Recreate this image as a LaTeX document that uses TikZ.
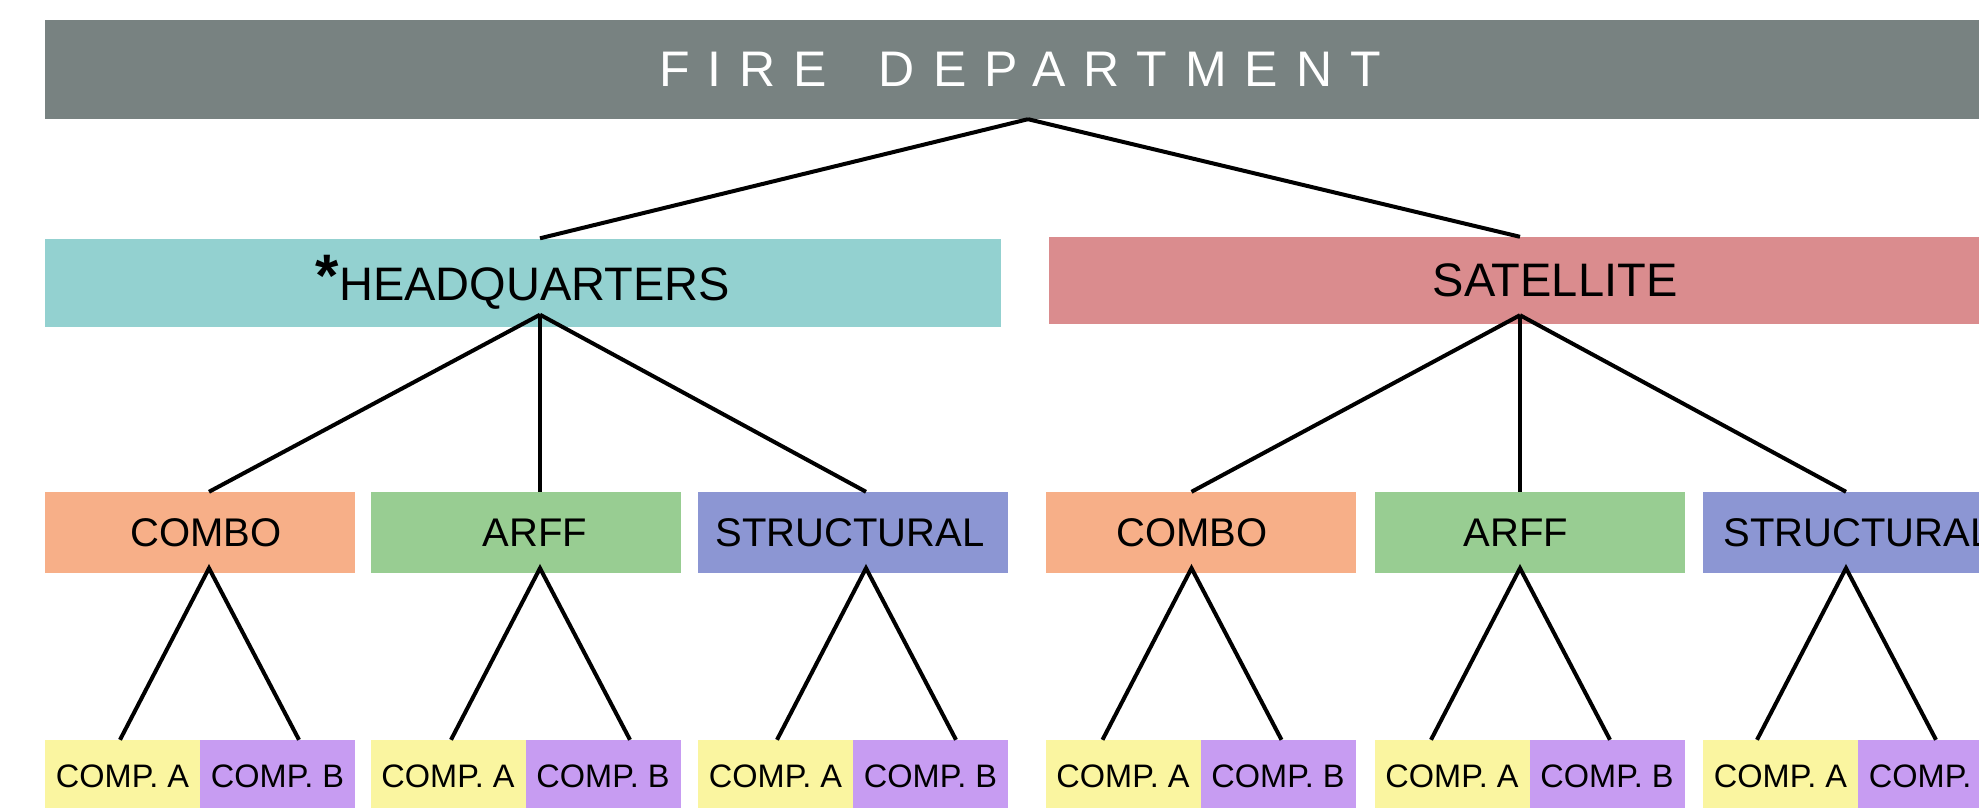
\documentclass[tikz,border=0pt]{standalone}
\usepackage{fontspec}
\setmainfont{Liberation Sans}
\newfontfamily\deptfont[LetterSpace=36]{Liberation Sans}

\definecolor{deptgray}{RGB}{120,130,129}
\definecolor{hqteal}{RGB}{147,209,208}
\definecolor{satred}{RGB}{218,140,142}
\definecolor{comboorange}{RGB}{247,175,136}
\definecolor{arffgreen}{RGB}{152,205,146}
\definecolor{structblue}{RGB}{140,150,211}
\definecolor{compyellow}{RGB}{250,245,160}
\definecolor{compviolet}{RGB}{199,156,242}

\begin{document}
\begin{tikzpicture}[x=1pt, y=-1pt,
    box/.style={rectangle, inner sep=0pt, text=black},
    station/.style={box, minimum height=88pt, font=\fontsize{47}{47}\selectfont},
    unitbox/.style={box, minimum width=310pt, minimum height=81pt, font=\fontsize{40}{40}\selectfont},
    compbox/.style={box, minimum width=155pt, minimum height=72pt, font=\fontsize{32.5}{32.5}\selectfont},
    link/.style={line width=4pt}]
    \useasboundingbox (0,0) rectangle (1979,808);
    \node[box, fill=deptgray, minimum width=1950pt, minimum height=99pt, text=white, font=\deptfont\fontsize{50}{50}\selectfont] (dept) at (1020,69.5) {FIRE\hspace{20pt} DEPARTMENT};
    \node[station, fill=hqteal, minimum width=956pt, text height=35pt, text depth=0pt] (hq) at (523,282.5) {\smash{\raisebox{4pt}{\fontsize{60}{60}\selectfont\bfseries *}}HEADQUARTERS};
    \node[station, fill=satred, minimum width=1012pt, minimum height=87pt] (sat) at (1555,280.5) {SATELLITE};
    % joints where the connectors meet
    \coordinate (deptj) at ([xshift=8pt]dept.south);
    \coordinate (hqj) at ([xshift=17pt, yshift=12pt]hq.south);
    \coordinate (satj) at ([xshift=-35pt, yshift=9pt]sat.south);
    \draw[link] (deptj) -- ([xshift=17pt]hq.north);
    \draw[link] (deptj) -- ([xshift=-35pt]sat.north);
    \foreach \id/\cx/\s/\k/\up/\col/\txt in {hqcombo/200/9/12/hqj/comboorange/COMBO, hqarff/525.5/14.5/19/hqj/arffgreen/ARFF, hqstruct/853/13/-6/hqj/structblue/STRUCTURAL, satcombo/1200.5/-9/-17/satj/comboorange/COMBO, satarff/1529.5/-9.5/-27/satj/arffgreen/ARFF, satstruct/1858/-12/0/satj/structblue/STRUCTURAL} {
        \node[unitbox, fill=\col] (\id) at (\cx,532.5) {\kern\k pt\txt};
        \node[compbox, fill=compyellow] (\id-a) at (\cx-77.5,776) {COMP. A};
        \node[compbox, fill=compviolet] (\id-b) at (\cx+77.5,776) {COMP. B};
        \draw[link] (\up) -- ([xshift=\s]\id.north);
        \draw[link] ([xshift=\s-11.5]\id-a.north) -- ([xshift=\s, yshift=5pt]\id.south) -- ([xshift=\s+12.5]\id-b.north);
    }
\end{tikzpicture}
\end{document}
